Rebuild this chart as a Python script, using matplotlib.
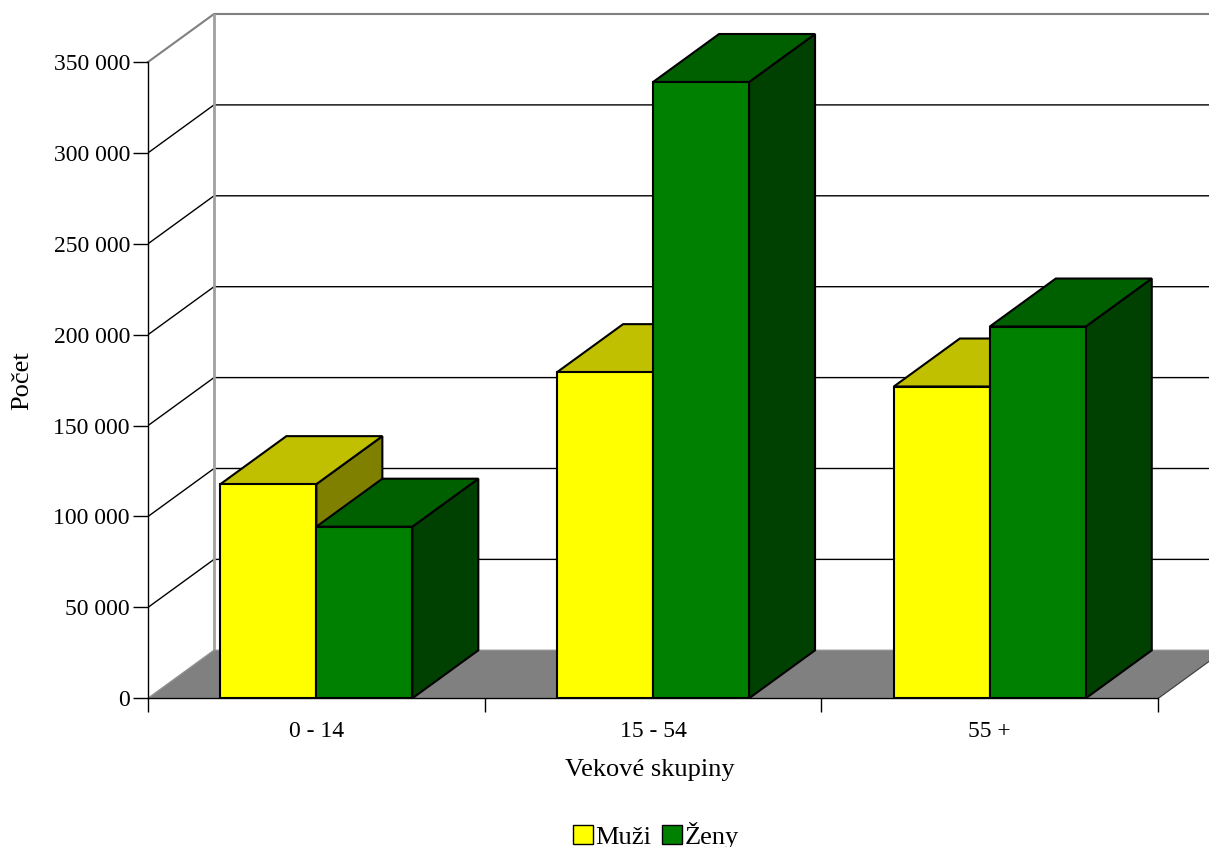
import matplotlib.pyplot as plt
from matplotlib.patches import Polygon, Patch

# data
categories = ["0 - 14", "15 - 54", "55 +"]
muzi = [117800, 179400, 171500]
zeny = [94400, 339000, 204500]
series_names = ["Muži", "Ženy"]

y_ticks = [0, 50000, 100000, 150000, 200000, 250000, 300000, 350000]

# colours: front, top, side
yellow = ("#ffff00", "#c0c000", "#808000")
green = ("#008000", "#006000", "#004000")

plt.rcParams['font.family'] = ['Liberation Serif', 'DejaVu Serif']

fig = plt.figure(figsize=(12.09, 8.47), dpi=100)
ax = fig.add_axes([148 / 1209, (847 - 698.3) / 847, 1061 / 1209, 684.3 / 847])

ymax = y_ticks[-1]
dx = 0.196      # depth offset in category units
dy = 26400      # depth offset in value units
n = len(categories)
ax.set_xlim(0, 3.151)
ax.set_ylim(0, ymax + dy)

# back wall / side wall lines
for v in y_ticks[1:-1]:
    ax.plot([0, dx, 3.3], [v, v + dy, v + dy], color="black", lw=1, zorder=1, clip_on=True)
ax.plot([0, dx, 3.3], [ymax, ymax + dy, ymax + dy], color="#808080", lw=1.5, zorder=1, clip_on=False)
ax.plot([dx, dx], [dy, ymax + dy], color="#a0a0a0", lw=2, zorder=1)

# floor
floor = Polygon([(0, 0), (n, 0), (n + dx, dy), (dx, dy)], closed=True,
                facecolor="#808080", edgecolor="#909090", lw=1, zorder=2, clip_on=True)
ax.add_patch(floor)
ax.plot([n, n + dx], [0, dy], color="#404040", lw=0.8, zorder=2)


def draw_bar(x0, x1, h, cols):
    front, top, side = cols
    kw = dict(closed=True, edgecolor="black", lw=1.5, joinstyle="miter", zorder=3)
    ax.add_patch(Polygon([(x1, 0), (x1 + dx, dy), (x1 + dx, h + dy), (x1, h)], facecolor=side, **kw))
    ax.add_patch(Polygon([(x0, h), (x1, h), (x1 + dx, h + dy), (x0 + dx, h + dy)], facecolor=top, **kw))
    ax.add_patch(Polygon([(x0, 0), (x1, 0), (x1, h), (x0, h)], facecolor=front, **kw))


bw = 0.285
for i in range(n):
    c = i + 0.5
    draw_bar(c - bw, c, muzi[i], yellow)
    draw_bar(c, c + bw, zeny[i], green)

# axes
for s in ["top", "right"]:
    ax.spines[s].set_visible(False)
ax.spines["left"].set_bounds(0, ymax)
ax.spines["bottom"].set_bounds(0, n)
for s in ["left", "bottom"]:
    ax.spines[s].set_linewidth(1)
    ax.spines[s].set_zorder(4)
ax.set_facecolor("none")

ax.set_yticks(y_ticks)
ax.set_yticklabels([f"{v:,}".replace(",", " ") for v in y_ticks])
ax.tick_params(axis="y", length=11, width=1, pad=2, labelsize=17)
ax.set_xticks(range(n + 1))
ax.set_xticklabels([""] * (n + 1))
ax.set_xticks([i + 0.5 for i in range(n)], minor=True)
ax.set_xticklabels(categories, minor=True)
ax.tick_params(axis="x", which="major", length=10, width=1)
ax.tick_params(axis="x", which="minor", length=0, pad=16, labelsize=17)

fig.text(22 / 1209, 1 - 381 / 847, "Počet", rotation=90, ha="center", va="center", fontsize=19)
fig.text(650 / 1209, 1 - 770 / 847, "Vekové skupiny", ha="center", va="center", fontsize=19)

handles = [Patch(facecolor=yellow[0], edgecolor="black", lw=1),
           Patch(facecolor=green[0], edgecolor="black", lw=1)]
fig.legend(handles, series_names, loc="center", bbox_to_anchor=(656 / 1209, 1 - 835 / 847),
           ncol=2, frameon=False, fontsize=19, handlelength=0.75, handleheight=0.75,
           handletextpad=0.1, columnspacing=0.4, borderpad=0)

fig.savefig("out.png", dpi=100)
